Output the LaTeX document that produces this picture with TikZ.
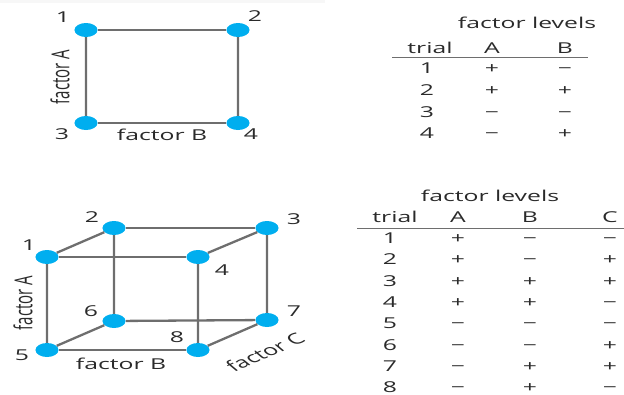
\documentclass[tikz,border=0pt]{standalone}
\usepackage{fontspec}
\setmainfont{Open Sans}
\definecolor{dotblue}{HTML}{00AEEF}
\definecolor{edgegray}{HTML}{6E6E6E}
\definecolor{txt}{HTML}{2A2A2A}
\tikzset{
  dot/.style={circle, fill=dotblue, inner sep=0pt, minimum size=14pt},
  edge/.style={draw=edgegray, line width=2.3pt},
  lbl/.style={font=\fontsize{15}{18}\selectfont, text=txt, inner sep=0pt},
  cell/.style={lbl, anchor=base},
  rule/.style={draw=edgegray, line width=1.8pt}
}
\begin{document}
\begin{tikzpicture}[y=-1pt]
\begin{scope}[x=0.60606pt, xscale=1.65, transform shape]
\useasboundingbox (0,0) rectangle (624,394);
\fill[gray!6] (0,0) rectangle (325,3);

% ---- top square ----
\node[dot] (s1) at (86,30) {};
\node[dot] (s2) at (238,30) {};
\node[dot] (s3) at (86,123) {};
\node[dot] (s4) at (238,123) {};
\draw[edge] (s1) -- (s2);
\draw[edge] (s2) -- (s4);
\draw[edge] (s4) -- (s3);
\draw[edge] (s3) -- (s1);
\node[lbl] (ls1) at (63,17) {1};
\node[lbl] (ls2) at (255,16) {2};
\node[lbl] (ls3) at (62,134) {3};
\node[lbl] (ls4) at (251,134) {4};
\node[lbl, rotate=90] (sfa) at (60,77) {factor A};
\node[lbl] (sfb) at (162,135) {factor B};

% ---- top table ----
\node[cell] (t1h) at (527,28) {factor levels};
\node[cell] (t1tr) at (430,53) {trial};
\node[cell] (t1a) at (492,53) {A};
\node[cell] (t1b) at (565,53) {B};
\draw[rule] (392,57.5) -- (588,57.5);
\foreach \n/\y/\a/\b in {1/73/+/−, 2/95/+/+, 3/117/−/−, 4/138/−/+}{
  \node[cell] (t1r\n) at (427,\y) {\n};
  \node[cell] (t1a\n) at (492,\y) {\a};
  \node[cell] (t1b\n) at (565,\y) {\b};
}

% ---- cube ----
\node[dot] (c1) at (47,257) {};
\node[dot] (c2) at (114,228) {};
\node[dot] (c3) at (267,228) {};
\node[dot] (c4) at (198,257) {};
\node[dot] (c5) at (47,350) {};
\node[dot] (c6) at (114,321) {};
\node[dot] (c7) at (267,320) {};
\node[dot] (c8) at (198,350) {};
\draw[edge] (c1) -- (c2);
\draw[edge] (c2) -- (c3);
\draw[edge] (c3) -- (c4);
\draw[edge] (c1) -- (c4);
\draw[edge] (c1) -- (c5);
\draw[edge] (c2) -- (c6);
\draw[edge] (c3) -- (c7);
\draw[edge] (c4) -- (c8);
\draw[edge] (c5) -- (c6);
\draw[edge] (c6) -- (c7);
\draw[edge] (c7) -- (c8);
\draw[edge] (c5) -- (c8);
\node[lbl] (lc1) at (29,245) {1};
\node[lbl] (lc2) at (92,217) {2};
\node[lbl] (lc3) at (294,219) {3};
\node[lbl] (lc4) at (222,270) {4};
\node[lbl] (lc5) at (22,355) {5};
\node[lbl] (lc6) at (91,311) {6};
\node[lbl] (lc7) at (294,311) {7};
\node[lbl] (lc8) at (177,337) {8};
\node[lbl, rotate=90] (cfa) at (23,303) {factor A};
\node[lbl] (cfb) at (121,364) {factor B};
\node[lbl, rotate=36] (cfc) at (265,352) {factor C};

% ---- bottom table ----
\node[cell] (t2h) at (490,201) {factor levels};
\node[cell] (t2tr) at (395,222) {trial};
\node[cell] (t2a) at (458,222) {A};
\node[cell] (t2b) at (530,222) {B};
\node[cell] (t2c) at (610,222) {C};
\draw[rule] (357,228.5) -- (624,228.5);
\foreach \n/\y/\a/\b/\c in {1/243/+/−/−, 2/264.5/+/−/+, 3/286/+/+/+, 4/307/+/+/−, 5/328.5/−/−/−, 6/350/−/−/+, 7/371/−/+/+, 8/392/−/+/−}{
  \node[cell] (t2r\n) at (390,\y) {\n};
  \node[cell] (t2a\n) at (458,\y) {\a};
  \node[cell] (t2b\n) at (530,\y) {\b};
  \node[cell] (t2c\n) at (610,\y) {\c};
}
\end{scope}
\end{tikzpicture}
\end{document}
